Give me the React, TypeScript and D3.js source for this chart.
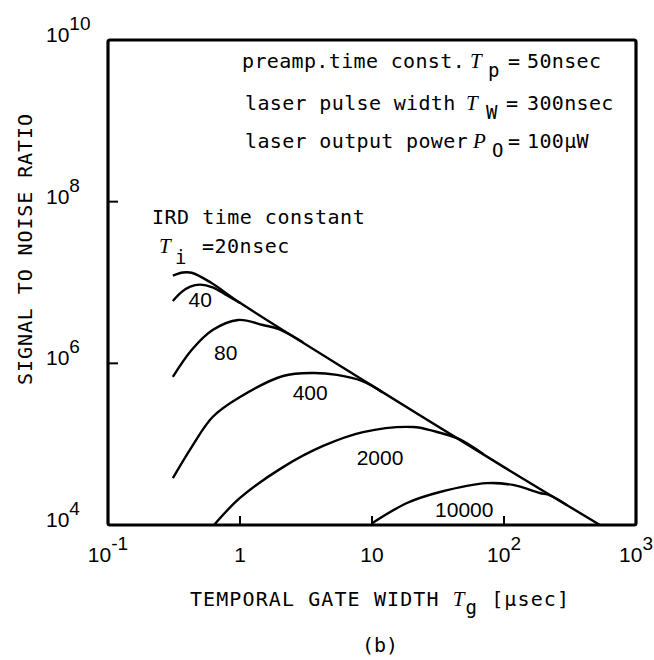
import React, { useRef, useEffect } from 'react';
import * as d3 from 'd3';

const WIDTH = 654;
const HEIGHT = 660;

// [gate width Tg (usec), signal to noise ratio], one list per IRD time constant
const curve20 = [[0.31, 1.22e7], [0.37, 1.33e7], [0.43, 1.32e7], [0.6, 1.0e7], [1, 5.6e6], [10, 5.3e5], [100, 5.2e4], [533, 1e4]];
const curve40 = [[0.31, 5.9e6], [0.36, 7.6e6], [0.42, 8.9e6], [0.5, 9.4e6], [0.62, 8.7e6], [0.8, 6.9e6], [1, 5.6e6]];
const curve80 = [[0.31, 6.8e5], [0.43, 1.46e6], [0.62, 2.58e6], [0.97, 3.44e6], [1.49, 2.98e6], [1.97, 2.65e6], [3, 1.82e6]];
const curve400 = [[0.31, 3.8e4], [0.43, 9.2e4], [0.62, 2.17e5], [1.0, 3.83e5], [2.12, 6.97e5], [3.57, 7.6e5], [5.43, 7.2e5], [8.55, 6.0e5], [12, 4.4e5]];
const curve2000 = [[0.635, 1e4], [1, 2.16e4], [2.12, 5.2e4], [4.26, 9.5e4], [8.55, 1.41e5], [20.5, 1.63e5], [29, 1.46e5], [45, 1.17e5], [70, 7.5e4]];
const curve10000 = [[10, 1.05e4], [18.4, 1.87e4], [32.7, 2.56e4], [74, 3.3e4], [117, 3.13e4], [187, 2.49e4], [223, 2.33e4], [300, 1.76e4]];

const curves = [curve20, curve40, curve80, curve400, curve2000, curve10000];

// curve labels placed in data units
const labelTexts = ['40', '80', '400', '2000', '10000'];
const labelGate = [0.5, 0.78, 3.4, 11.5, 50];
const labelSnr = [5.0e6, 1.1e6, 3.5e5, 5.5e4, 1.26e4];

const xTicks = [0.1, 1, 10, 100, 1000];
const xTickBase = ['10', '1', '10', '10', '10'];
const xTickSup = ['-1', '', '', '2', '3'];
const xInnerTicks = [1, 10, 100];

const yTicks = [1e4, 1e6, 1e8, 1e10];
const yTickSup = ['4', '6', '8', '10'];
const yInnerTicks = [1e6, 1e8];

const MONO = "'DejaVu Sans Mono', monospace";
const SANS = "'Liberation Sans', Arial, sans-serif";
const ITAL = "'Liberation Serif', serif";

function App() {
  const svgRef = useRef(null);

  useEffect(() => {
    const svg = d3.select(svgRef.current);
    svg.selectAll('*').remove();

    const x = d3.scaleLog().domain([0.1, 1000]).range([108, 636]);
    const y = d3.scaleLog().domain([1e4, 1e10]).range([525, 40]);

    const line = d3
      .line()
      .x((d) => x(d[0]))
      .y((d) => y(d[1]))
      .curve(d3.curveCatmullRom.alpha(0.5));

    svg
      .selectAll('path.curve')
      .data(curves)
      .enter()
      .append('path')
      .attr('class', 'curve')
      .attr('d', (d) => line(d))
      .attr('fill', 'none')
      .attr('stroke', '#000')
      .attr('stroke-width', 2.4)
      .attr('stroke-linejoin', 'round');

    // frame
    svg
      .append('rect')
      .attr('x', x(0.1))
      .attr('y', y(1e10))
      .attr('width', x(1000) - x(0.1))
      .attr('height', y(1e4) - y(1e10))
      .attr('fill', 'none')
      .attr('stroke', '#000')
      .attr('stroke-width', 3.2)
      .attr('rx', 2);

    // inward ticks
    svg
      .selectAll('line.xt')
      .data(xInnerTicks)
      .enter()
      .append('line')
      .attr('x1', (d) => x(d))
      .attr('x2', (d) => x(d))
      .attr('y1', y(1e4))
      .attr('y2', y(1e4) - 9)
      .attr('stroke', '#000')
      .attr('stroke-width', 2);

    svg
      .selectAll('line.yt')
      .data(yInnerTicks)
      .enter()
      .append('line')
      .attr('x1', x(0.1))
      .attr('x2', x(0.1) + 10)
      .attr('y1', (d) => y(d))
      .attr('y2', (d) => y(d))
      .attr('stroke', '#000')
      .attr('stroke-width', 2);

    // x tick labels
    const xl = svg
      .selectAll('text.xl')
      .data(xTicks)
      .enter()
      .append('text')
      .attr('x', (d) => x(d))
      .attr('y', 562)
      .attr('text-anchor', 'middle')
      .attr('font-family', SANS)
      .attr('font-size', 21);
    xl.append('tspan').text((d, i) => xTickBase[i]);
    xl.append('tspan')
      .attr('dy', -12)
      .attr('font-size', 19)
      .text((d, i) => xTickSup[i]);

    // y tick labels
    const yl = svg
      .selectAll('text.yl')
      .data(yTicks)
      .enter()
      .append('text')
      .attr('x', 46)
      .attr('y', (d) => y(d) + 2)
      .attr('font-family', SANS)
      .attr('font-size', 21);
    yl.append('tspan').text('10');
    yl.append('tspan')
      .attr('dy', -12)
      .attr('font-size', 19)
      .text((d, i) => yTickSup[i]);

    // curve labels
    svg
      .selectAll('text.cl')
      .data(labelTexts)
      .enter()
      .append('text')
      .attr('x', (d, i) => x(labelGate[i]))
      .attr('y', (d, i) => y(labelSnr[i]))
      .attr('text-anchor', 'middle')
      .attr('font-family', SANS)
      .attr('font-size', 21)
      .text((d) => d);

    // parameter notes
    const notes = [
      { x0: 242, y0: 68, pre: 'preamp.time const.', sym: 'T', sub: 'p', post: '= 50nsec', xs: 470, xb: 488, xe: 508, xv: 527 },
      { x0: 245, y0: 110, pre: 'laser pulse width', sym: 'T', sub: 'W', post: '= 300nsec', xs: 466, xb: 486, xe: 506, xv: 527 },
      { x0: 245, y0: 148, pre: 'laser output power', sym: 'P', sub: 'O', post: '= 100\u03bcW', xs: 473, xb: 492, xe: 508, xv: 527 },
    ];
    notes.forEach((n) => {
      const t = svg
        .append('text')
        .attr('x', n.x0)
        .attr('y', n.y0)
        .attr('font-family', MONO)
        .attr('font-size', 20)
        .attr('letter-spacing', 0.35);
      t.append('tspan').text(n.pre);
      t.append('tspan')
        .attr('x', n.xs)
        .attr('font-family', ITAL)
        .attr('font-style', 'italic')
        .attr('font-size', 21)
        .text(n.sym);
      t.append('tspan').attr('x', n.xb).attr('dy', 9).attr('font-size', 19).text(n.sub);
      t.append('tspan').attr('x', n.xe).attr('dy', -9).text(n.post.slice(0, 1));
      t.append('tspan').attr('x', n.xv).text(n.post.slice(2));
    });

    // IRD time constant note
    svg
      .append('text')
      .attr('x', 152)
      .attr('y', 224)
      .attr('font-family', MONO)
      .attr('font-size', 20)
      .attr('letter-spacing', 0.5)
      .text('IRD time constant');
    const ti = svg
      .append('text')
      .attr('x', 159)
      .attr('y', 253)
      .attr('font-family', MONO)
      .attr('font-size', 20)
      .attr('letter-spacing', 0.5);
    ti.append('tspan').attr('font-family', ITAL).attr('font-style', 'italic').attr('font-size', 21).text('T');
    ti.append('tspan').attr('x', 175).attr('dy', 11).attr('font-size', 19).text('i');
    ti.append('tspan').attr('x', 202).attr('dy', -11).text('=20nsec');

    // axis titles
    const xt = svg
      .append('text')
      .attr('x', 380)
      .attr('y', 606)
      .attr('text-anchor', 'middle')
      .attr('font-family', MONO)
      .attr('font-size', 20)
      .attr('letter-spacing', 1.1);
    xt.append('tspan').text('TEMPORAL GATE WIDTH ');
    xt.append('tspan').attr('font-family', ITAL).attr('font-style', 'italic').attr('font-size', 21).text('T');
    xt.append('tspan').attr('dy', 8).attr('font-size', 19).text('g');
    xt.append('tspan').attr('dy', -8).text(' [\u03bcsec]');

    svg
      .append('text')
      .attr('transform', 'translate(32,249) rotate(-90)')
      .attr('text-anchor', 'middle')
      .attr('font-family', MONO)
      .attr('font-size', 20)
      .attr('letter-spacing', 0.9)
      .text('SIGNAL TO NOISE RATIO');

    svg
      .append('text')
      .attr('x', 380)
      .attr('y', 652)
      .attr('text-anchor', 'middle')
      .attr('font-family', MONO)
      .attr('font-size', 20)
      .text('(b)');
  }, []);

  return (
    <svg
      ref={svgRef}
      width={WIDTH}
      height={HEIGHT}
      style={{ position: 'absolute', left: 0, top: 0, background: '#fff' }}
    ></svg>
  );
}

export default App;
